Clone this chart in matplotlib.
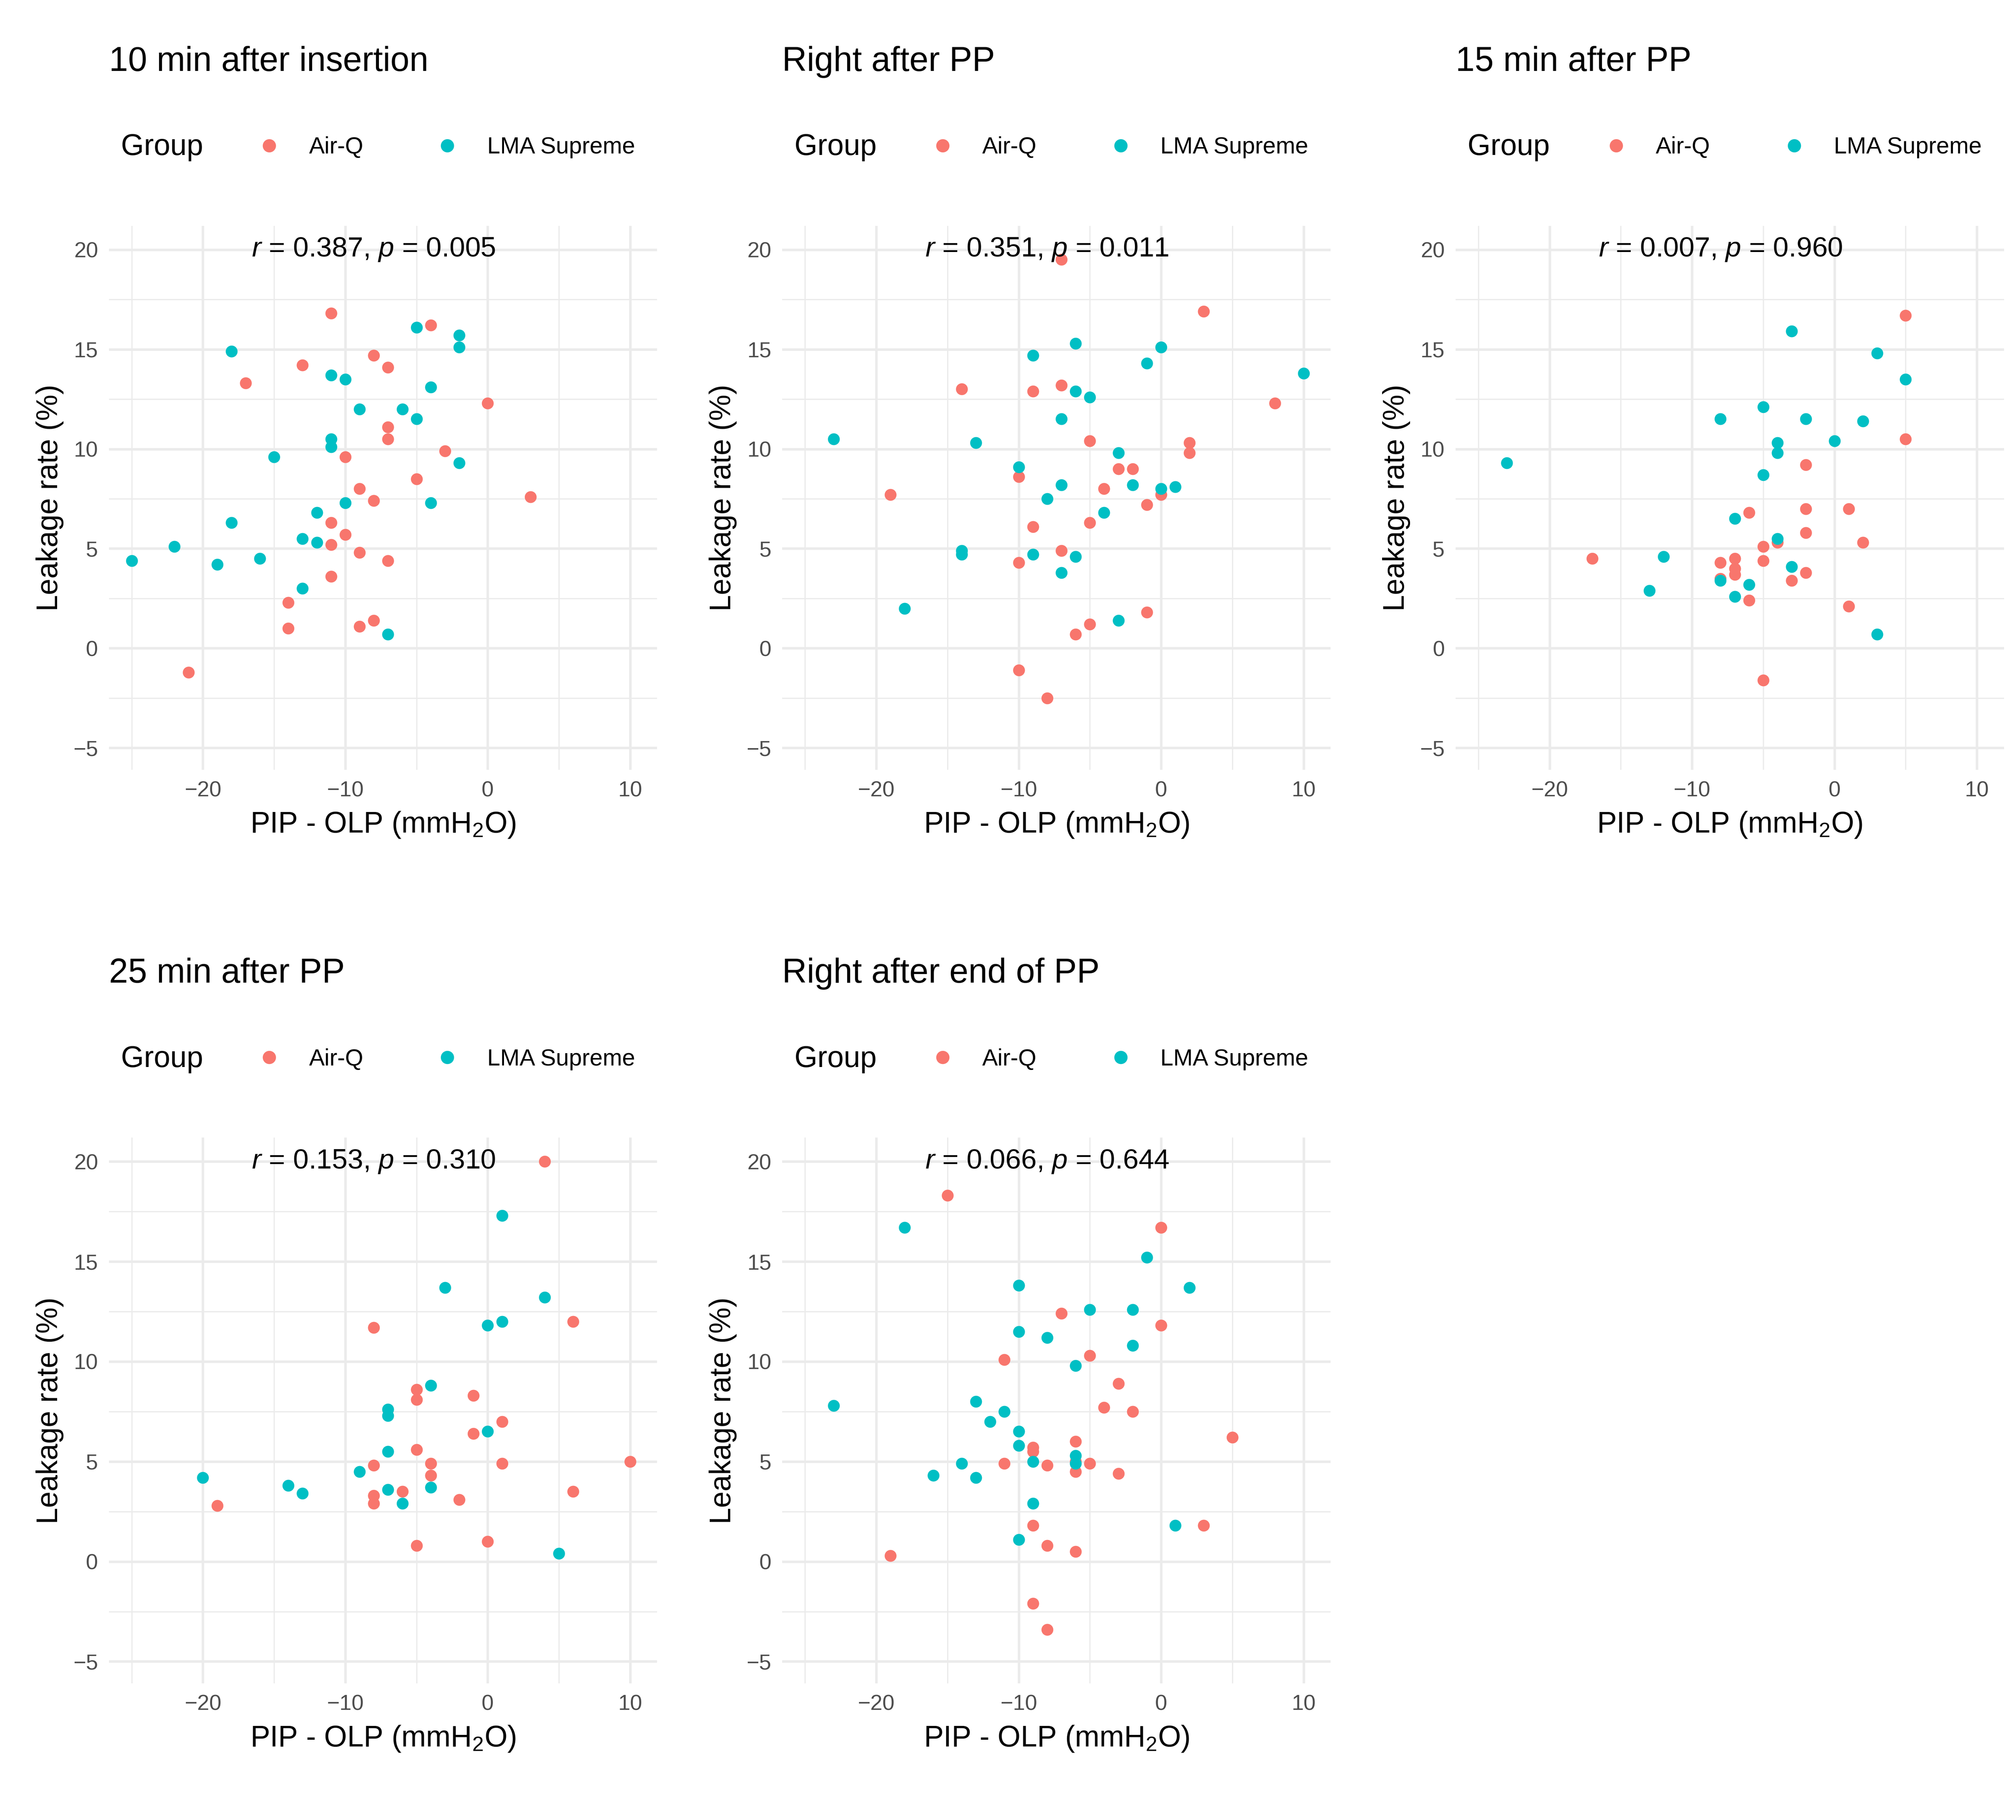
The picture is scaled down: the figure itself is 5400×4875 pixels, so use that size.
import matplotlib
matplotlib.use("Agg")
import matplotlib.pyplot as plt
from matplotlib.lines import Line2D
import numpy as np

plt.rcParams['font.family'] = ['Liberation Sans', 'DejaVu Sans']
plt.rcParams['mathtext.fontset'] = 'custom'
plt.rcParams['mathtext.rm'] = 'Liberation Sans'
plt.rcParams['mathtext.it'] = 'Liberation Sans:italic'

titles = ["10 min after insertion", "Right after PP", "15 min after PP",
          "25 min after PP", "Right after end of PP"]
stats = [("0.387", "0.005"), ("0.351", "0.011"), ("0.007", "0.960"),
         ("0.153", "0.310"), ("0.066", "0.644")]
groups = ["Air-Q", "LMA Supreme"]
colors = ["#F8766D", "#00BFC4"]

p1_air_x = [-11,-4,-17,-13,-8,-7,-7,-7,0,-3,-10,-5,3,-9,-8,-11,-10,-11,-9,-7,-11,-14,-14,-8,-9,-21]
p1_air_y = [16.8,16.2,13.3,14.2,14.7,14.1,11.1,10.5,12.3,9.9,9.6,8.5,7.6,8.0,7.4,6.3,5.7,5.2,4.8,4.4,3.6,2.3,1.0,1.4,1.1,-1.2]
p1_lma_x = [-18,-11,-10,-5,-2,-2,-4,-9,-6,-5,-11,-11,-15,-2,-10,-4,-12,-18,-13,-12,-22,-25,-16,-19,-13,-7]
p1_lma_y = [14.9,13.7,13.5,16.1,15.7,15.1,13.1,12.0,12.0,11.5,10.5,10.1,9.6,9.3,7.3,7.3,6.8,6.3,5.5,5.3,5.1,4.4,4.5,4.2,3.0,0.7]

p2_air_x = [-7,3,-14,-9,-7,8,2,2,-5,-3,-2,-4,-19,0,-1,-10,-5,-9,-7,-10,-1,-5,-6,-10,-8]
p2_air_y = [19.5,16.9,13.0,12.9,13.2,12.3,10.3,9.8,10.4,9.0,9.0,8.0,7.7,7.7,7.2,8.6,6.3,6.1,4.9,4.3,1.8,1.2,0.7,-1.1,-2.5]
p2_lma_x = [-6,-9,0,-1,-6,-5,10,-7,-23,-13,-3,-10,-7,-2,0,1,-8,-4,-14,-14,-9,-6,-7,-18,-3]
p2_lma_y = [15.3,14.7,15.1,14.3,12.9,12.6,13.8,11.5,10.5,10.3,9.8,9.1,8.2,8.2,8.0,8.1,7.5,6.8,4.9,4.7,4.7,4.6,3.8,2.0,1.4]

p3_air_x = [5,5,-2,1,-2,-6,-2,2,-4,-5,-17,-7,-8,-5,-7,-2,-7,-8,-3,-6,1,-5]
p3_air_y = [16.7,10.5,9.2,7.0,7.0,6.8,5.8,5.3,5.3,5.1,4.5,4.5,4.3,4.4,4.0,3.8,3.7,3.5,3.4,2.4,2.1,-1.6]
p3_lma_x = [-3,3,5,-5,-8,-2,2,0,-4,-4,-23,-5,-7,-4,-12,-3,-8,-6,-13,-7,3]
p3_lma_y = [15.9,14.8,13.5,12.1,11.5,11.5,11.4,10.4,10.3,9.8,9.3,8.7,6.5,5.5,4.6,4.1,3.4,3.2,2.9,2.6,0.7]

p4_air_x = [4,-8,6,-5,-5,-1,1,-1,-5,10,1,-4,-8,-4,6,-6,-8,-2,-8,-19,-5,0]
p4_air_y = [20.0,11.7,12.0,8.6,8.1,8.3,7.0,6.4,5.6,5.0,4.9,4.9,4.8,4.3,3.5,3.5,3.3,3.1,2.9,2.8,0.8,1.0]
p4_lma_x = [1,-3,4,1,0,-4,-7,-7,0,-7,-9,-20,-14,-4,-7,-13,-6,5]
p4_lma_y = [17.3,13.7,13.2,12.0,11.8,8.8,7.6,7.3,6.5,5.5,4.5,4.2,3.8,3.7,3.6,3.4,2.9,0.4]

p5_air_x = [-15,0,-7,0,-11,-5,-3,-4,-2,5,-6,-9,-9,-6,-11,-5,-8,-6,-3,-9,3,-8,-6,-19,-9,-8]
p5_air_y = [18.3,16.7,12.4,11.8,10.1,10.3,8.9,7.7,7.5,6.2,6.0,5.7,5.5,5.0,4.9,4.9,4.8,4.5,4.4,1.8,1.8,0.8,0.5,0.3,-2.1,-3.4]
p5_lma_x = [-18,-1,2,-10,-5,-2,-10,-8,-2,-6,-23,-13,-11,-12,-10,-10,-6,-9,-14,-6,-16,-13,-9,1,-10]
p5_lma_y = [16.7,15.2,13.7,13.8,12.6,12.6,11.5,11.2,10.8,9.8,7.8,8.0,7.5,7.0,6.5,5.8,5.3,5.0,4.9,4.9,4.3,4.2,2.9,1.8,1.1]

panels = [(p1_air_x, p1_air_y, p1_lma_x, p1_lma_y),
          (p2_air_x, p2_air_y, p2_lma_x, p2_lma_y),
          (p3_air_x, p3_air_y, p3_lma_x, p3_lma_y),
          (p4_air_x, p4_air_y, p4_lma_x, p4_lma_y),
          (p5_air_x, p5_air_y, p5_lma_x, p5_lma_y)]

fig = plt.figure(figsize=(18, 16.25), dpi=300)
lefts = [0.054, 0.388, 0.722]
rows = [(0.577, 0.876), (0.075, 0.375)]
W = 0.272

for i, (ax_, ay_, lx_, ly_) in enumerate(panels):
    r, c = divmod(i, 3)
    b, t = rows[r]
    ax = fig.add_axes([lefts[c], b, W, t - b])
    ax.set_xlim(-26.6, 11.9)
    ax.set_ylim(-6.1, 21.2)
    ax.set_xticks([-20, -10, 0, 10])
    ax.set_yticks([-5, 0, 5, 10, 15, 20])
    ax.set_xticks([-25, -15, -5, 5], minor=True)
    ax.set_yticks([-2.5, 2.5, 7.5, 12.5, 17.5], minor=True)
    ax.grid(True, which='major', color='#EBEBEB', lw=1.6)
    ax.grid(True, which='minor', color='#EBEBEB', lw=0.8)
    ax.set_axisbelow(True)
    for s in ax.spines.values():
        s.set_visible(False)
    ax.tick_params(which='both', length=0, labelsize=14, colors='#4D4D4D', pad=7)
    ax.scatter(ax_, ay_, s=58, color=colors[0], lw=0, zorder=3)
    ax.scatter(lx_, ly_, s=58, color=colors[1], lw=0, zorder=3)
    rr, pp = stats[i]
    ax.text(-8, 20, f"$r$ = {rr}, $p$ = {pp}", ha='center', va='center', fontsize=18)
    ax.set_xlabel("PIP - OLP (mmH$_2$O)", fontsize=19, labelpad=6)
    ax.set_ylabel("Leakage rate (%)", fontsize=19, labelpad=6)
    x0 = lefts[c]
    fig.text(x0, t + 0.09, titles[i], fontsize=22, ha='left', va='center')
    fig.text(x0 + 0.006, t + 0.043, "Group", fontsize=19, ha='left', va='center')
    handles = [Line2D([], [], marker='o', ls='', color=col, markersize=7.5) for col in colors]
    fig.legend(handles, groups, loc='center left', bbox_to_anchor=(x0 + 0.068, t + 0.043),
               ncol=2, frameon=False, fontsize=15, handletextpad=0.7, columnspacing=2.6,
               borderaxespad=0, borderpad=0)

fig.savefig("out.png", dpi=300, facecolor='white')
